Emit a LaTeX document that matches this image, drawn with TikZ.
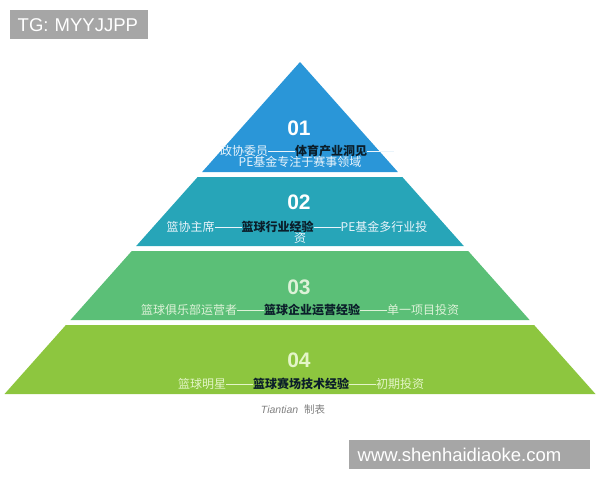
\documentclass[tikz,border=0pt]{standalone}
\usepackage{fontspec}
\setmainfont{Liberation Sans}
\newfontfamily\cjk{Noto Sans CJK SC}
\definecolor{tierA}{HTML}{2A96D8}
\definecolor{tierB}{HTML}{27A5B8}
\definecolor{tierC}{HTML}{5BBF77}
\definecolor{tierD}{HTML}{8DC63F}
\definecolor{wmgrey}{HTML}{A6A6A6}
\definecolor{darktxt}{HTML}{0B1E2A}
\definecolor{paleA}{HTML}{EAF4FB}
\definecolor{paleC}{HTML}{DDF2D8}
\definecolor{paleD}{HTML}{E4F5C8}
\tikzset{
  tierfill/.style={fill=#1, draw=none},
  numlabel/.style={font=\fontsize{21}{21}\selectfont\bfseries, text=#1, inner sep=0pt},
  desclabel/.style={font=\cjk\fontsize{12}{12}\selectfont, inner sep=0pt, text=#1},
  wmbox/.style={fill=wmgrey, text=white, anchor=north west, inner sep=0pt, minimum height=29pt, font=\fontsize{18.5}{18.5}\selectfont}
}
\newcommand{\dk}[1]{{\color{darktxt}\bfseries #1}}
\newcommand{\dsh}{\rule[0.36em]{27pt}{0.6pt}}
\begin{document}
\begin{tikzpicture}[x=1pt,y=-1pt]
\useasboundingbox (0,0) rectangle (600,480);
% tiers
\path[tierfill=tierA] (300,62) -- (397.9,172) -- (202.1,172) -- cycle;
\path[tierfill=tierB] (197.65,177) -- (402.35,177) -- (463.8,246) -- (136.2,246) -- cycle;
\path[tierfill=tierC] (131.8,251) -- (468.2,251) -- (529.6,320) -- (70.4,320) -- cycle;
\path[tierfill=tierD] (65.9,325) -- (534.1,325) -- (595.5,394) -- (4.5,394) -- cycle;
% numbers
\node[numlabel=white] (n1) at (299,128) {01};
\node[numlabel=white] (n2) at (299,202) {02};
\node[numlabel=paleC] (n3) at (299,287) {03};
\node[numlabel=paleD] (n4) at (299,360) {04};
% descriptions
\node[desclabel=paleA] (d1a) at (307,151) {政协委员\dsh\dk{体育产业洞见}\dsh};
\node[desclabel=paleA] (d1b) at (300,162) {PE基金专注于赛事领域};
\node[desclabel=paleA] (d2a) at (297,227) {篮协主席\dsh\dk{篮球行业经验}\dsh PE基金多行业投};
\node[desclabel=paleA] (d2b) at (300,238) {资};
\node[desclabel=paleC] (d3) at (300,310) {篮球俱乐部运营者\dsh\dk{篮球企业运营经验}\dsh 单一项目投资};
\node[desclabel=paleD] (d4) at (301,384) {篮球明星\dsh\dk{篮球赛场技术经验}\dsh 初期投资};
% caption
\node[font=\fontsize{10.5}{10.5}\selectfont\itshape, text=gray, inner sep=0pt] (cap) at (293,409) {Tiantian\ \ {\cjk 制表}};
% watermarks
\node[wmbox, minimum width=138pt, text width=133pt, align=left] (tg) at (10,10) {\hspace*{5pt}TG: MYYJJPP};
\node[wmbox, minimum width=241pt, text width=236pt, align=left] (url) at (349,440) {\hspace*{6pt}www.shenhaidiaoke.com};
\end{tikzpicture}
\end{document}
